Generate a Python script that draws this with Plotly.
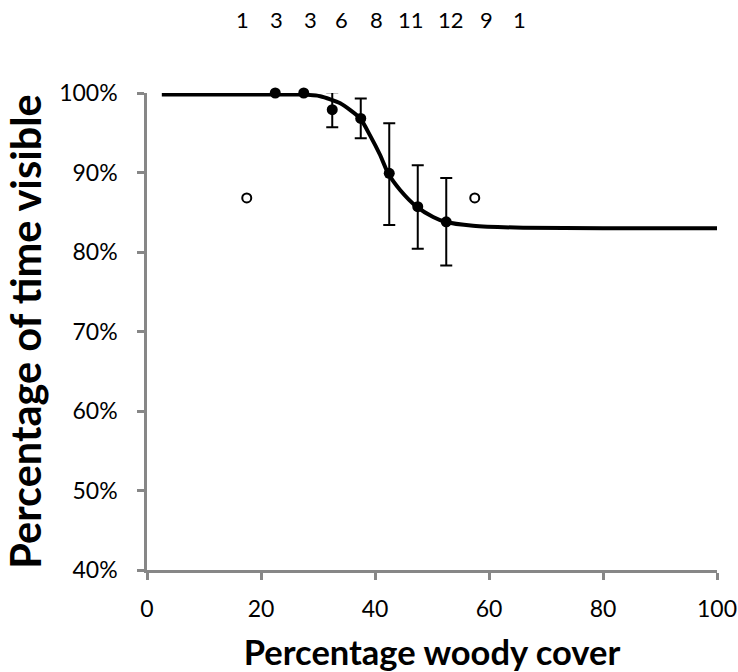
import plotly.graph_objects as go

# Bin centres (percentage woody cover) and observed visibility (%)
bin_x = [17.5, 22.5, 27.5, 32.5, 37.5, 42.5, 47.5, 52.5, 57.5]
vis_y = [86.8, 100.0, 100.0, 97.9, 96.8, 89.9, 85.7, 83.8, 86.8]
err_up = [0, 0, 0, 2.2, 2.5, 6.3, 5.2, 5.5, 0]
err_dn = [0, 0, 0, 2.2, 2.5, 6.5, 5.3, 5.5, 0]
# sample size per bin (shown above the chart); 1-sample bins drawn open
counts = [1, 3, 3, 6, 8, 11, 12, 9, 1]
# label x-positions (data units) of the count row
count_label_x = [16.7, 22.8, 28.6, 34.2, 40.2, 46.3, 53.3, 59.6, 65.3]

# fitted curve
curve_x = [2.6, 20, 27, 30.4, 33.9, 37.4, 39.1, 40.9, 42.3, 44.4, 47.3, 50.2, 52.3, 57.2, 66, 80, 100]
curve_y = [99.8, 99.8, 99.8, 99.6, 98.7, 96.8, 94.7, 92.2, 89.9, 87.8, 85.7, 84.4, 83.8, 83.3, 83.05, 83.0, 83.0]

FONT = "Lato"

fig = go.Figure()

fig.add_trace(go.Scatter(
    x=curve_x, y=curve_y, mode="lines", line=dict(color="black", width=4, shape="spline", smoothing=0.6),
    hoverinfo="skip", showlegend=False, cliponaxis=False))

# filled points: bins with more than one sample
fx = [x for x, n in zip(bin_x, counts) if n > 1]
fy = [y for y, n in zip(vis_y, counts) if n > 1]
fu = [u for u, n in zip(err_up, counts) if n > 1]
fd = [d for d, n in zip(err_dn, counts) if n > 1]
# error bars only where present
ex = [x for x, u in zip(fx, fu) if u > 0]
ey = [y for y, u in zip(fy, fu) if u > 0]
eu = [u for u in fu if u > 0]
ed = [d for d, u in zip(fd, fu) if u > 0]

fig.add_trace(go.Scatter(
    x=ex, y=ey, mode="markers", marker=dict(size=0.1, color="rgba(0,0,0,0)"),
    error_y=dict(type="data", symmetric=False, array=eu, arrayminus=ed,
                 color="black", thickness=2, width=6),
    showlegend=False, cliponaxis=False))

fig.add_trace(go.Scatter(
    x=fx, y=fy, mode="markers", marker=dict(size=11, color="black"),
    showlegend=False, cliponaxis=False))

ox = [x for x, n in zip(bin_x, counts) if n == 1]
oy = [y for y, n in zip(vis_y, counts) if n == 1]
fig.add_trace(go.Scatter(
    x=ox, y=oy, mode="markers",
    marker=dict(size=9, color="white", line=dict(color="black", width=2)),
    showlegend=False, cliponaxis=False))

for lx, n in zip(count_label_x, counts):
    fig.add_annotation(x=lx, y=1.154, xref="x", yref="paper", text=str(n),
                       showarrow=False, font=dict(family=FONT, size=22, color="black"),
                       xanchor="center", yanchor="middle")

axis_common = dict(showline=True, linecolor="#878787", linewidth=2.5, ticks="outside",
                   tickcolor="#878787", tickwidth=2.5, ticklen=7, showgrid=False,
                   zeroline=False, automargin=False,
                   tickfont=dict(family=FONT, size=23, color="black"))

fig.update_xaxes(range=[0, 100], dtick=20, tick0=0, ticklabelstandoff=10,
                 title=dict(text="<b>Percentage woody cover</b>", font=dict(family=FONT, size=34.5, color="black"), standoff=21),
                 **axis_common)
fig.update_yaxes(range=[40, 100], dtick=10, tick0=40, ticksuffix="%", ticklabelstandoff=15,
                 title=dict(text="<b>Percentage of time visible</b>", font=dict(family=FONT, size=41.5, color="black"), standoff=12),
                 **axis_common)

fig.update_layout(width=738, height=672, margin=dict(l=147, r=21, t=93, b=102),
                  plot_bgcolor="white", paper_bgcolor="white", showlegend=False)

fig.write_html("out.html")
